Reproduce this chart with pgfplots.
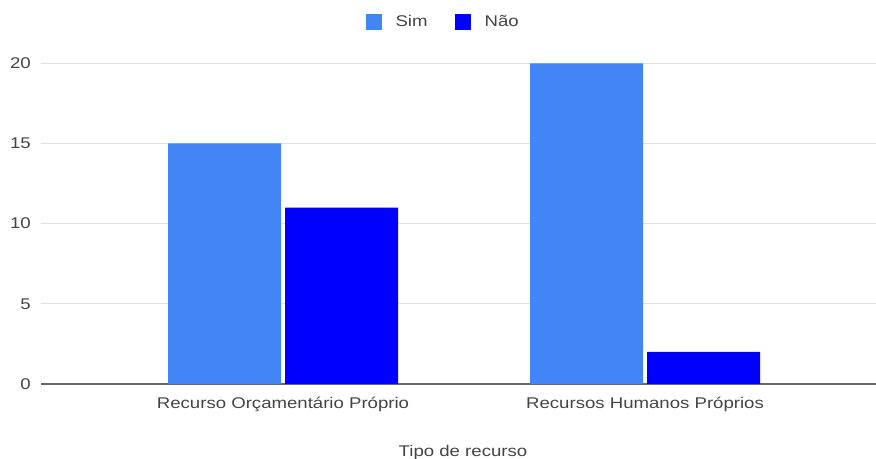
\documentclass[border=0pt]{standalone}
\usepackage{pgfplots}
\pgfplotsset{compat=1.18}
\usepackage{fontspec}
\setmainfont{Liberation Sans}[FakeStretch=1.2]
\definecolor{sim}{HTML}{4285F4}
\definecolor{nao}{HTML}{0000FF}
\definecolor{txt}{HTML}{444444}
\definecolor{gridc}{HTML}{E0E0E0}
\definecolor{axisc}{HTML}{666666}
\begin{document}
\begin{tikzpicture}[x=1bp,y=1bp]
\useasboundingbox (0,0) rectangle (876,459);
\begin{axis}[
  ybar, bar width=113bp,
  at={(41bp,75bp)}, anchor=south west,
  scale only axis, width=835bp, height=320.7bp,
  xmin=-0.6685, xmax=1.638, ymin=0, ymax=20,
  ytick={0,5,10,15,20}, xtick={0,1},
  xticklabels={Recurso Orçamentário Próprio, Recursos Humanos Próprios},
  ymajorgrids, grid style={gridc, line width=1.3bp},
  extra y ticks={0}, extra y tick labels={},
  extra y tick style={grid style={axisc, line width=1.6bp}},
  axis line style={draw=none}, major tick length=0,
  tick label style={font=\fontsize{15.5bp}{18bp}\selectfont, text=txt},
  yticklabel style={anchor=east, inner sep=0pt, xshift=-10bp},
  xticklabel style={anchor=base, inner sep=0pt, yshift=-25bp},
  /pgf/number format/assume math mode=true,
  xlabel={Tipo de recurso},
  xlabel style={at={(axis description cs:0.5054,0)}, anchor=base, yshift=-72.7bp,
    font=\fontsize{15.5bp}{18bp}\selectfont, text=txt, inner sep=0pt},
  legend image code/.code={\fill[#1] (0bp,-8bp) rectangle (16bp,8bp);},
  legend columns=2,
  legend style={at={(0.4816,1.129)}, anchor=center, draw=none, fill=none,
    font=\fontsize{15.5bp}{18bp}\selectfont, text=txt,
    /tikz/every odd column/.append style={column sep=12bp},
    /tikz/every even column/.append style={column sep=25bp}},
]
\addlegendimage{fill=sim, draw=none}
\addlegendentry{Sim}
\addlegendimage{fill=nao, draw=none}
\addlegendentry{Não}
\addplot[fill=sim, draw=none, bar shift=-58.5bp, forget plot] coordinates {(0,15) (1,20)};
\addplot[fill=nao, draw=none, bar shift=58.5bp, forget plot] coordinates {(0,11) (1,2)};
\end{axis}
\end{tikzpicture}
\end{document}
